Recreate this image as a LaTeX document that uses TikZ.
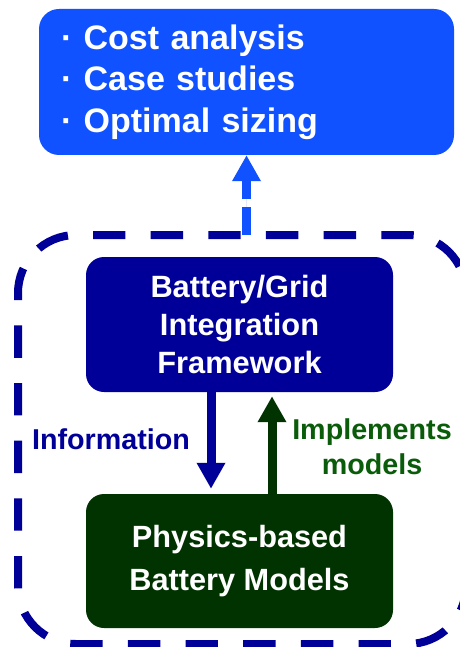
\documentclass[tikz,border=0pt]{standalone}
\usepackage{fontspec}
\setmainfont{Liberation Sans}
\usetikzlibrary{arrows.meta}

\definecolor{topblue}{RGB}{16,82,255}
\definecolor{navy}{RGB}{0,0,153}
\definecolor{darkgreen}{RGB}{0,51,0}
\definecolor{labelgreen}{RGB}{10,92,10}

\tikzset{
  box/.style={rounded corners=18pt, inner sep=0pt, text=white, align=center,
    font=\bfseries},
  flow/.style={line width=9pt, -{Triangle[width=27pt,length=26pt]}},
  frameline/.style={draw=navy, line width=8pt, rounded corners=58pt,
    dash pattern=on 32.4pt off 25.26pt},
}

\begin{document}
\begin{tikzpicture}[x=1pt, y=-1pt]
    \useasboundingbox (0,0) rectangle (459,647);
    \draw[frameline] (93,235) -- (466,235) -- (466,644) -- (18,644)
      -- (18,235) -- (93,235);
    \coordinate (frametop) at (246.5,235);
    \node[box, fill=topblue, rounded corners=20pt, minimum height=146pt,
      text width=371pt, inner xsep=22pt, align=left,
      font=\bfseries\fontsize{34}{41.7}\selectfont] (tasks) at (246.5,82)
      {· Cost analysis\\· Case studies\\· Optimal sizing};
    \node[box, fill=navy, minimum width=307pt, minimum height=135pt,
      font=\bfseries\fontsize{30.8}{38}\selectfont] (framework) at (239.5,324.5)
      {Battery/Grid\\Integration\\Framework};
    \node[box, fill=darkgreen, minimum width=307pt, minimum height=134pt,
      font=\bfseries\fontsize{30.7}{43}\selectfont] (models) at (239.5,561)
      {Physics-based\\Battery Models};
    \draw[flow, draw=topblue, fill=topblue, dash pattern=on 28pt off 8pt]
      (tasks.south |- frametop) -- (tasks.south);
    \draw[flow, draw=navy, fill=navy]
      ([xshift=-28.5]framework.south) -- ([xshift=-28.5,yshift=5]models.north);
    \draw[flow, draw=darkgreen, fill=darkgreen]
      ([xshift=32.5]models.north) -- ([xshift=32.5,yshift=-4]framework.south);
    \node[text=navy, font=\bfseries\fontsize{28.7}{35}\selectfont] (info)
      at (111,439) {Information};
    \node[text=labelgreen, align=center,
      font=\bfseries\fontsize{28.7}{35}\selectfont] (impl)
      at (372,447) {Implements\\models};
\end{tikzpicture}
\end{document}
